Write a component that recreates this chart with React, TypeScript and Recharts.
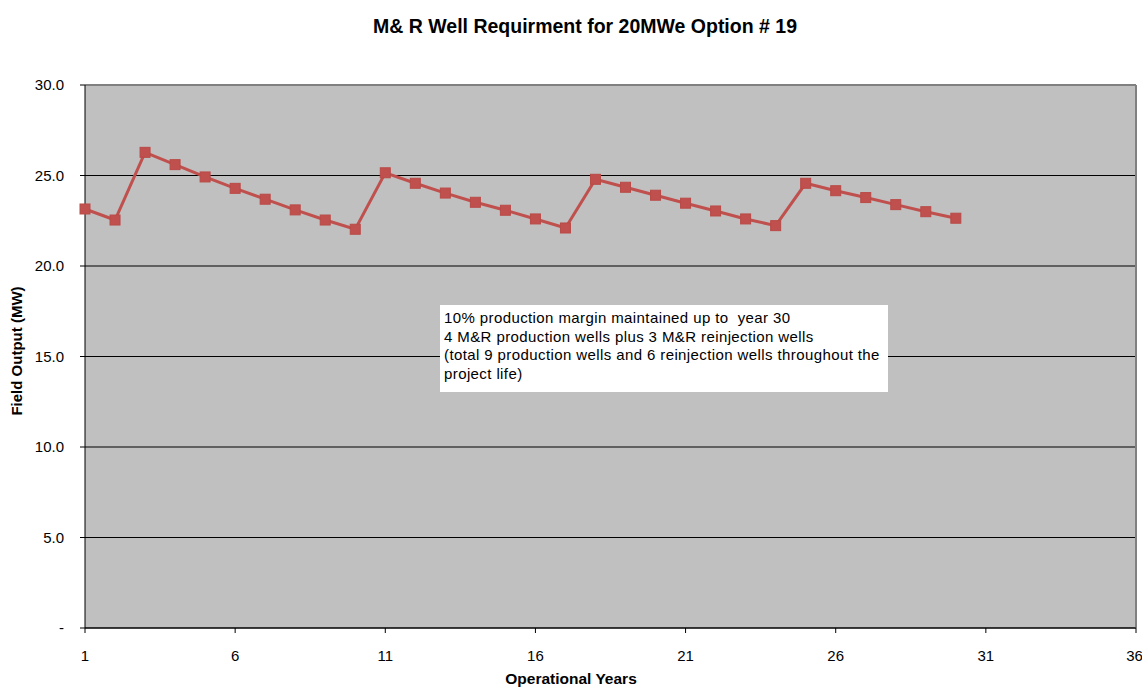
import { LineChart, Line, XAxis, YAxis, CartesianGrid, ReferenceLine, Label } from "recharts";

const years = [1, 2, 3, 4, 5, 6, 7, 8, 9, 10, 11, 12, 13, 14, 15, 16, 17, 18, 19, 20, 21, 22, 23, 24, 25, 26, 27, 28, 29, 30];
const fieldOutput = [
  23.15, 22.54, 26.28, 25.6, 24.92, 24.29, 23.69, 23.1, 22.54, 22.03,
  25.15, 24.57, 24.03, 23.52, 23.08, 22.6, 22.1, 24.79, 24.35, 23.91,
  23.47, 23.04, 22.6, 22.23, 24.57, 24.16, 23.78, 23.39, 23.0, 22.64,
];
const xTicks = [1, 6, 11, 16, 21, 26, 31, 36];
const yTicks = [0, 5, 10, 15, 20, 25, 30];
const noteLines = [
  "10% production margin maintained up to  year 30",
  "4 M&R production wells plus 3 M&R reinjection wells",
  "(total 9 production wells and 6 reinjection wells throughout the",
  "project life)",
];

const data = years.map((year, i) => ({ year, output: fieldOutput[i] }));

const FONT = "'Liberation Sans', Arial, sans-serif";
const RED = "#C0504D";

function SquareDot({ cx, cy }: { cx?: number; cy?: number }) {
  if (cx == null || cy == null) return null;
  return <rect x={cx - 5} y={cy - 5} width={10} height={10} fill={RED} stroke="#B94A47" strokeWidth={1} />;
}

export default function App() {
  return (
    <div style={{ position: "absolute", left: 0, top: 0, width: 1142, height: 688, background: "#fff", fontFamily: FONT }}>
      <LineChart width={1142} height={688} data={data} margin={{ top: 85, right: 6, bottom: 0, left: 0 }}>
        <CartesianGrid fill="#C0C0C0" vertical={false} stroke="#000" strokeOpacity={1} />
        <XAxis
          type="number"
          dataKey="year"
          domain={[1, 36]}
          ticks={xTicks}
          height={60}
          stroke="#000"
          tickSize={5}
          tickMargin={17}
          tick={{ fill: "#000", fontSize: 15, fontFamily: FONT }}
        >
          <Label
            content={() => (
              <text x={571} y={684} textAnchor="middle" fontSize={15.5} fontWeight="bold" fontFamily={FONT} fill="#000">
                Operational Years
              </text>
            )}
          />
        </XAxis>
        <YAxis
          domain={[0, 30]}
          ticks={yTicks}
          width={85}
          stroke="#000"
          tickSize={5}
          tickMargin={16}
          tickFormatter={(v: number) => (v === 0 ? "-" : v.toFixed(1))}
          tick={{ fill: "#000", fontSize: 15, fontFamily: FONT }}
        >
          <Label
            content={() => (
              <text
                x={22}
                y={351}
                transform="rotate(-90 22 351)"
                textAnchor="middle"
                fontSize={15}
                fontWeight="bold"
                fontFamily={FONT}
                fill="#000"
              >
                Field Output (MW)
              </text>
            )}
          />
        </YAxis>
        <ReferenceLine y={30} stroke="#808080" strokeWidth={2} />
        <ReferenceLine x={36} stroke="#808080" strokeWidth={2} />
        <Line
          type="linear"
          dataKey="output"
          stroke={RED}
          strokeWidth={3}
          dot={<SquareDot />}
          activeDot={false}
          isAnimationActive={false}
        />
      </LineChart>
      <div
        style={{
          position: "absolute",
          left: 0,
          top: 15,
          width: 1170,
          textAlign: "center",
          fontSize: 19.5,
          lineHeight: "22px",
          fontWeight: "bold",
          color: "#000",
        }}
      >
        M&amp; R Well Requirment for 20MWe Option # 19
      </div>
      <div
        style={{
          position: "absolute",
          left: 440,
          top: 305,
          width: 448,
          height: 87,
          background: "#fff",
          boxSizing: "border-box",
          padding: "4px 0 0 4px",
          fontSize: 15,
          letterSpacing: 0.4,
          lineHeight: "18.7px",
          color: "#000",
          whiteSpace: "pre",
        }}
      >
        {noteLines.map((t) => (
          <div key={t}>{t}</div>
        ))}
      </div>
    </div>
  );
}
